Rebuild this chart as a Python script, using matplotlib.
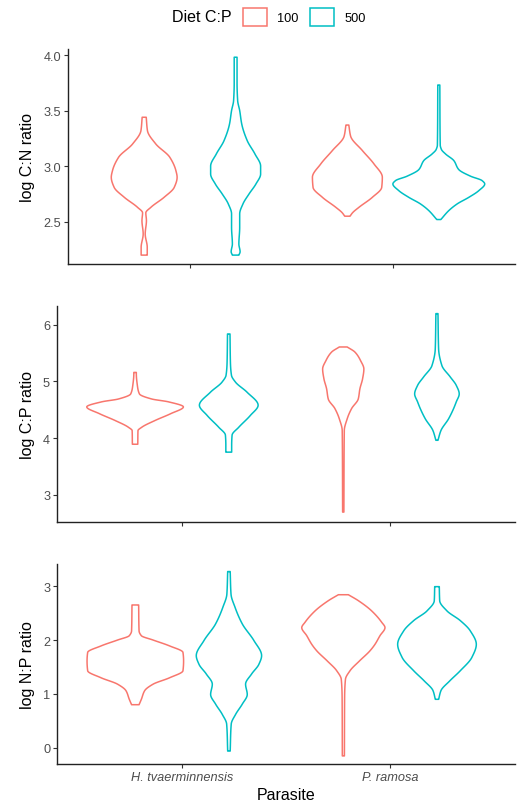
import numpy as np
import matplotlib
matplotlib.use("Agg")
import matplotlib.pyplot as plt
from matplotlib.patches import Patch

plt.rcParams['font.family'] = ['Liberation Sans', 'DejaVu Sans']

# ---------------- data (violin outlines) ----------------
parasites = ["H. tvaerminnensis", "P. ramosa"]
diets = ["100", "500"]
diet_colors = ["#F8766D", "#00BFC4"]
ylabels = ["log C:N ratio", "log C:P ratio", "log N:P ratio"]
xlabel = "Parasite"
legend_title = "Diet C:P"

# panel 1: log C:N  (y values, half-widths in x units)
cn_ht_100_y = [2.20, 2.27, 2.39, 2.51, 2.58, 2.63, 2.72, 2.81, 2.90, 2.96, 3.08, 3.20, 3.32, 3.44]
cn_ht_100_w = [0.015, 0.015, 0.005, 0.011, 0.008, 0.033, 0.098, 0.148, 0.162, 0.156, 0.126, 0.057, 0.016, 0.010]
cn_ht_500_y = [2.20, 2.23, 2.30, 2.45, 2.57, 2.66, 2.75, 2.84, 2.93, 3.00, 3.11, 3.23, 3.38, 3.50, 3.59, 3.75, 3.98]
cn_ht_500_w = [0.016, 0.022, 0.016, 0.020, 0.020, 0.036, 0.066, 0.100, 0.123, 0.123, 0.095, 0.057, 0.030, 0.020, 0.010, 0.007, 0.007]
cn_pr_100_y = [2.55, 2.58, 2.63, 2.72, 2.81, 2.90, 3.02, 3.14, 3.27, 3.37]
cn_pr_100_w = [0.013, 0.025, 0.057, 0.123, 0.169, 0.172, 0.131, 0.074, 0.016, 0.007]
cn_pr_500_y = [2.52, 2.60, 2.66, 2.72, 2.78, 2.84, 2.87, 2.91, 2.97, 3.05, 3.11, 3.15, 3.19, 3.73]
cn_pr_500_w = [0.010, 0.049, 0.090, 0.148, 0.197, 0.226, 0.213, 0.156, 0.098, 0.074, 0.033, 0.013, 0.007, 0.005]

# panel 2: log C:P
cp_ht_100_y = [3.89, 4.13, 4.19, 4.31, 4.43, 4.55, 4.64, 4.69, 4.78, 4.93, 5.14, 5.16]
cp_ht_100_w = [0.013, 0.014, 0.032, 0.096, 0.171, 0.232, 0.160, 0.080, 0.021, 0.011, 0.006, 0.006]
cp_ht_500_y = [3.75, 3.87, 4.05, 4.19, 4.40, 4.58, 4.81, 4.99, 5.11, 5.34, 5.84]
cp_ht_500_w = [0.014, 0.014, 0.016, 0.048, 0.104, 0.141, 0.088, 0.032, 0.013, 0.008, 0.006]
cp_pr_100_y = [2.69, 4.13, 4.34, 4.52, 4.69, 4.87, 5.05, 5.22, 5.37, 5.52, 5.61]
cp_pr_100_w = [0.003, 0.005, 0.019, 0.040, 0.072, 0.080, 0.093, 0.099, 0.083, 0.056, 0.019]
cp_pr_500_y = [3.96, 4.13, 4.34, 4.52, 4.64, 4.78, 4.93, 5.08, 5.28, 5.58, 6.20]
cp_pr_500_w = [0.005, 0.019, 0.056, 0.080, 0.093, 0.107, 0.093, 0.064, 0.024, 0.008, 0.005]

# panel 3: log N:P
np_ht_100_y = [0.80, 0.90, 1.06, 1.18, 1.30, 1.43, 1.61, 1.77, 1.89, 2.00, 2.08, 2.17, 2.65]
np_ht_100_w = [0.018, 0.029, 0.045, 0.085, 0.165, 0.229, 0.232, 0.229, 0.165, 0.085, 0.029, 0.018, 0.016]
np_ht_500_y = [-0.06, 0.44, 0.62, 0.81, 0.99, 1.18, 1.37, 1.55, 1.71, 1.99, 2.30, 2.61, 2.85, 3.27]
np_ht_500_w = [0.006, 0.011, 0.032, 0.064, 0.088, 0.080, 0.109, 0.144, 0.157, 0.120, 0.064, 0.029, 0.010, 0.006]
np_pr_100_y = [-0.15, 0.93, 1.27, 1.43, 1.61, 1.80, 1.92, 2.08, 2.23, 2.33, 2.54, 2.73, 2.84]
np_pr_100_w = [0.005, 0.006, 0.010, 0.032, 0.077, 0.128, 0.152, 0.176, 0.200, 0.184, 0.136, 0.072, 0.024]
np_pr_500_y = [0.90, 1.06, 1.24, 1.43, 1.68, 1.92, 2.17, 2.36, 2.54, 2.73, 2.99]
np_pr_500_w = [0.008, 0.019, 0.061, 0.112, 0.168, 0.189, 0.160, 0.112, 0.048, 0.013, 0.011]

panel_ticks = [[2.5, 3.0, 3.5, 4.0], [3, 4, 5, 6], [0, 1, 2, 3]]
panel_ticklabels = [["2.5", "3.0", "3.5", "4.0"], ["3", "4", "5", "6"], ["0", "1", "2", "3"]]

panels = [
    [[(cn_ht_100_y, cn_ht_100_w), (cn_ht_500_y, cn_ht_500_w)],
     [(cn_pr_100_y, cn_pr_100_w), (cn_pr_500_y, cn_pr_500_w)]],
    [[(cp_ht_100_y, cp_ht_100_w), (cp_ht_500_y, cp_ht_500_w)],
     [(cp_pr_100_y, cp_pr_100_w), (cp_pr_500_y, cp_pr_500_w)]],
    [[(np_ht_100_y, np_ht_100_w), (np_ht_500_y, np_ht_500_w)],
     [(np_pr_100_y, np_pr_100_w), (np_pr_500_y, np_pr_500_w)]],
]

# ---------------- layout ----------------
W, H = 522, 804
fig = plt.figure(figsize=(W / 100, H / 100), dpi=100)
boxes = [(68, 515, 50, 265), (57, 515, 306.7, 522.7), (57.3, 515, 565, 765)]
ylims = [(2.12, 4.054), (2.52, 6.34), (-0.30, 3.41)]
dodge = 0.225
TXT = "#4D4D4D"


def smooth(y, w, n=400):
    """Monotone cubic (PCHIP) smoothing of the outline for drawing."""
    y = np.asarray(y, float)
    w = np.asarray(w, float)
    h = np.diff(y)
    d = np.diff(w) / h
    m = np.zeros_like(w)
    m[0], m[-1] = d[0], d[-1]
    for k in range(1, len(w) - 1):
        if d[k - 1] * d[k] <= 0:
            m[k] = 0
        else:
            w1 = 2 * h[k] + h[k - 1]
            w2 = h[k] + 2 * h[k - 1]
            m[k] = (w1 + w2) / (w1 / d[k - 1] + w2 / d[k])
    yy = np.linspace(y[0], y[-1], n)
    idx = np.clip(np.searchsorted(y, yy) - 1, 0, len(y) - 2)
    t = (yy - y[idx]) / h[idx]
    h00 = 2 * t**3 - 3 * t**2 + 1
    h10 = t**3 - 2 * t**2 + t
    h01 = -2 * t**3 + 3 * t**2
    h11 = t**3 - t**2
    ww = h00 * w[idx] + h10 * h[idx] * m[idx] + h01 * w[idx + 1] + h11 * h[idx] * m[idx + 1]
    return yy, np.maximum(ww, 0.002)


axes = []
for p, (l, r, t, b) in enumerate(boxes):
    ax = fig.add_axes([l / W, 1 - b / H, (r - l) / W, (b - t) / H])
    axes.append(ax)
    for i in range(len(parasites)):
        for j in range(len(diets)):
            yv, wv = panels[p][i][j]
            c = (i + 1) + (-dodge if j == 0 else dodge)
            yy, ww = smooth(yv, wv)
            ax.fill_betweenx(yy, c - ww, c + ww, facecolor="none",
                             edgecolor=diet_colors[j], linewidth=1.1)
    ax.set_xlim(0.4, 2.6)
    ax.set_ylim(*ylims[p])
    ax.set_yticks(panel_ticks[p])
    ax.set_yticklabels(panel_ticklabels[p])
    ax.set_xticks([1, 2])
    if p == 2:
        ax.set_xticklabels(parasites, style="italic")
    else:
        ax.set_xticklabels(["", ""])
    for s in ["top", "right"]:
        ax.spines[s].set_visible(False)
    for s in ["left", "bottom"]:
        ax.spines[s].set_linewidth(1.0)
        ax.spines[s].set_color("#222222")
    ax.tick_params(length=3.0, width=0.8, color="#333333", labelcolor=TXT,
                   labelsize=9.2, pad=2)
    ax.set_ylabel(ylabels[p], fontsize=11.5, color="black")
    ax.yaxis.set_label_coords(35 / W, 1 - ((t + b) / 2) / H, transform=fig.transFigure)

axes[2].set_xlabel(xlabel, fontsize=11.5, color="black")
axes[2].xaxis.set_label_coords(286 / W, 1 - 788 / H, transform=fig.transFigure)

# legend
fig.text(172 / W, 1 - 18 / H, legend_title, ha="left", va="center", fontsize=11.5)
handles = [Patch(facecolor="white", edgecolor=c, linewidth=1.1, label=l)
           for c, l in zip(diet_colors, diets)]
fig.legend(handles=handles, ncol=2, loc="center left",
           bbox_to_anchor=(243 / W, 1 - 18 / H), frameon=False, fontsize=9.2,
           handlelength=1.9, handleheight=1.9, handletextpad=0.8,
           columnspacing=0.85, borderpad=0, borderaxespad=0)

fig.savefig("out.png", dpi=100)
